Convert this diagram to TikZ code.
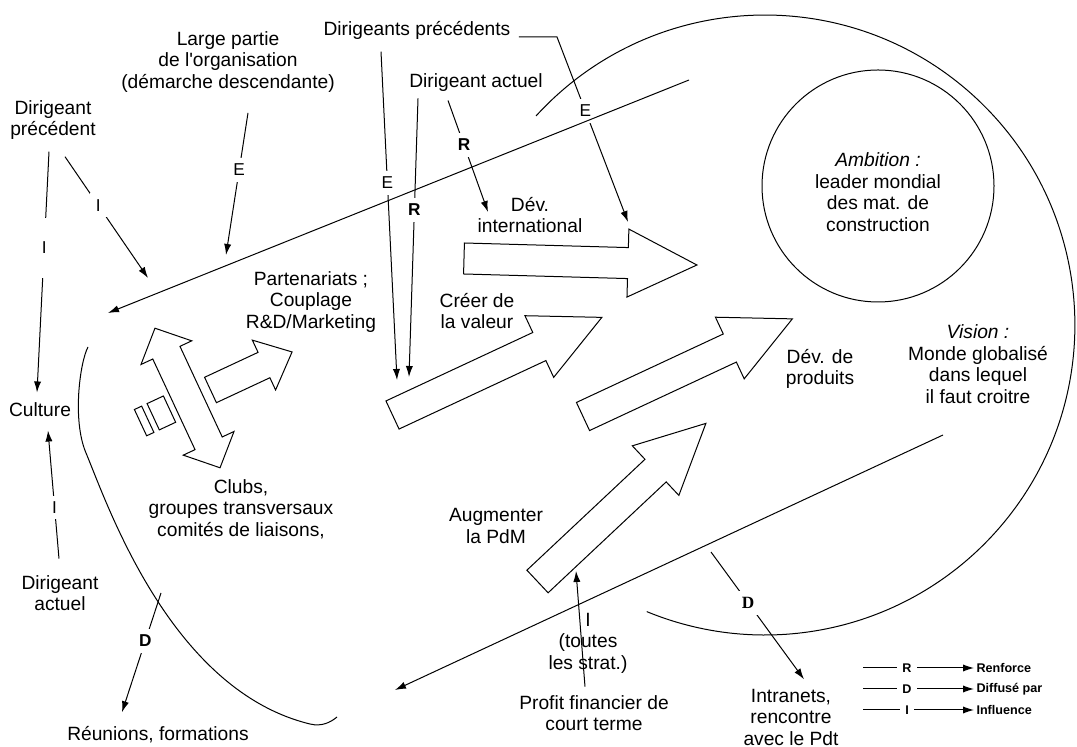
\documentclass[tikz,border=0pt]{standalone}
\usepackage{fontspec}
\setmainfont{Liberation Sans}
\newfontfamily\serifbold{Liberation Serif}
\usepackage{tikz}
\usetikzlibrary{arrows.meta}

\begin{document}
\begin{tikzpicture}[x = 0.5pt, y = -0.5pt, line width = 0.5pt, >={Latex[length = 5.5pt, width = 3.6pt]},
  txt/.style = {align = center, inner sep = 4pt, font = \fontsize{9.6}{10.75}\selectfont},
  lab/.style = {pos = 0.4, fill = white, inner sep = 3pt, font = \fontsize{8.6}{9}\selectfont},
  labb/.style = {lab, font = \fontsize{8.6}{9}\selectfont\bfseries},
  leg/.style = {inner sep = 1pt, font = \fontsize{6.3}{7}\selectfont\bfseries}]
  \useasboundingbox (0, 0) rectangle (1077, 747);
  \node[txt] at (53, 120) (dprec) {Dirigeant\\précédent};
  \node[txt] at (228, 62) (large) {Large partie\\de l\textquotesingle organisation\\(démarche descendante)};
  \node[txt] at (417, 30) (dsprec) {Dirigeants précédents};
  \node[txt] at (476, 83) (dact) {Dirigeant actuel};
  \node[txt] at (530, 215) (devint) {Dév.\\international};
  \node[txt] at (878, 192) (amb) {\textit{Ambition :}\\leader mondial\\des mat. de\\construction};
  \node[txt] at (311, 302) (part) {Partenariats ;\\Couplage\\R\&D/Marketing};
  \node[txt] at (477, 311) (creer) {Créer de\\la valeur};
  \node[txt] at (820, 369) (devprod) {Dév. de\\produits};
  \node[txt] at (978, 364) (vision) {\textit{Vision :}\\Monde globalisé\\dans lequel\\il faut croitre};
  \node[txt, inner sep = 5pt] at (40, 410) (culture) {Culture};
  \node[txt] at (60, 593) (dact2) {Dirigeant\\actuel};
  \node[txt] at (241, 509) (clubs) {Clubs,\\groupes transversaux\\comités de liaisons,};
  \node[txt] at (496, 526) (augm) {Augmenter\\la PdM};
  \node[txt] at (158, 735) (reun) {Réunions, formations};
  \node[txt] at (594, 713) (profit) {Profit financier de\\court terme};
  \node[txt] at (588, 643) (toutes) {I\\(toutes\\les strat.)};
  \node[txt] at (791, 717) (intra) {Intranets,\\rencontre\\avec le Pdt};
  \coordinate (t1) at (148, 278);
  \coordinate (t4) at (226, 255);
  \coordinate (t5) at (397, 380);
  \coordinate (t6) at (409, 377);
  \coordinate (t7) at (488, 212);
  \coordinate (c8) at (557, 37);
  \coordinate (t8) at (628, 222);
  \coordinate (s11) at (161, 593);
  \coordinate (s12) at (711, 552);
  \coordinate (t13) at (576, 571);
  \coordinate (l1a) at (689, 80);
  \coordinate (l1b) at (108, 313);
  \coordinate (l2a) at (943, 435);
  \coordinate (l2b) at (395, 690);
  \draw[->] ([xshift = 6pt, yshift = -4.25pt]dprec.south) -- node[lab] {I} (t1);
  \draw[->] ([xshift = -2pt, yshift = -1.75pt]dprec.south) -- node[lab, inner ysep = 12pt] {I} ([xshift = -1.5pt]culture.north);
  \draw[->] ([xshift = -0.5pt, yshift = 4pt]dact2.north) -- node[lab] {I} ([xshift = 4pt, yshift = -1.5pt]culture.south);
  \draw[->] ([xshift = 10pt, yshift = -6pt]large.south) -- node[lab] {E} (t4);
  \draw[->] ([xshift = -18pt, yshift = -2pt]dsprec.south) -- node[lab] {E} (t5);
  \draw[->] ([xshift = -29pt, yshift = 1pt]dact.south) -- node[labb] {R} (t6);
  \draw[->] ([xshift = -14pt]dact.south) -- node[labb] {R} (t7);
  \draw[->] ([yshift = -3.5pt]dsprec.east) -- (c8) -- node[lab] {E} (t8);
  \draw[->] (s11) -- node[labb] {D} ([xshift = -18pt, yshift = 3pt]reun.north);
  \draw[->] (s12) -- node[labb, font = \fontsize{8.6}{9}\serifbold\bfseries] {D} ([xshift = 6.5pt, yshift = 0.5pt]intra.north);
  \draw[->] ([xshift = -4.5pt]profit.north) -- (t13);
  \foreach \px/\py/\ang/\len/\bw/\hw/\hl in {464/258.5/-1.6/233/15.5/34/69, 392.5/415/25/231/15.5/34/69, 583/416.5/25/231/15.5/34/69, 537.5/581.5/43.2/231/15.5/34/69, 210.5/390/25/90/14/27.5/31}
  {
  \draw[shift = {(\px, \py)}, rotate = \ang] (0, -\bw) -- ({\len-\hl}, -\bw) -- ({\len-\hl}, -\hw) -- (\len, 0) -- ({\len-\hl}, \hw) -- ({\len-\hl}, \bw) -- (0, \bw) -- cycle;
  }
  \begin{scope}[shift = {(187.5, 398)}, rotate = -65]
    \draw (-77, 0) -- (-50, -28) -- (-50, -15) -- (50, -15) -- (50, -28) -- (77, 0) -- (50, 28) -- (50, 15) -- (-50, 15) -- (-50, 28) -- cycle;
    \draw (-12, 21) rectangle (17, 39);
    \draw (-12, 45) rectangle (17, 53);
  \end{scope}
  \draw (878, 186) circle[radius = 58pt];
  \draw (536, 116) arc[start angle = 137.6, end angle = -112.4, radius = 155pt];
  \draw (88, 347) .. controls (80, 362) and (72, 420) .. (86, 453) .. controls (107, 503) and (170, 690) .. (310, 724) .. controls (322, 727) and (331, 722) .. (337, 717);
  \draw[->] (l1a) -- (l1b);
  \draw[->] (l2a) -- (l2b);
  \foreach \n/\ltr/\word in {0/R/Renforce, 1/D/Diffusé par, 2/I/Influence}
  {
  \coordinate (s\n) at (863, {668 + 21*\n});
  \node[leg, inner xsep = 2.5pt] at (907, {668 + 21*\n}) (k\n) {\ltr};
  \node[leg, anchor = west] at (974, {668 + 21*\n}) (m\n) {\word};
  \draw (s\n) -- (k\n);
  \draw[->] (k\n) -- (k\n -| m\n.west);
  }
\end{tikzpicture}
\end{document}
